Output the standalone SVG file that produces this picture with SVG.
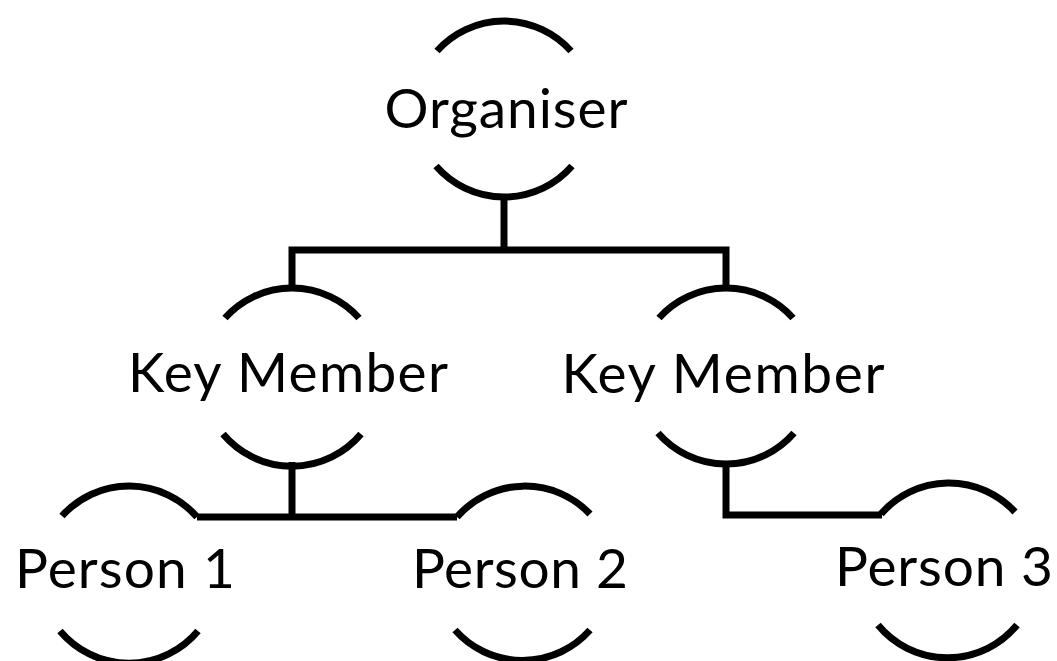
<svg xmlns="http://www.w3.org/2000/svg" width="1057" height="661" viewBox="0 0 1057 661">
<style>
.arc{fill:none;stroke:#000;stroke-width:7;stroke-linecap:butt}
.conn{fill:none;stroke:#000;stroke-width:7;stroke-linecap:butt;stroke-linejoin:miter}
.lbl{font-family:Lato,"Liberation Sans",sans-serif;font-size:55px;fill:#000;text-anchor:middle}
</style>
<rect width="1057" height="661" fill="#fff"/>
<g id="connectors">
<polyline class="conn" points="504,197 504,250"/>
<polyline class="conn" points="292,290 292,250 726,250 726,288"/>
<polyline class="conn" points="292,462 292,517"/>
<polyline class="conn" points="197,517 457,517"/>
<polyline class="conn" points="726,463 726,515 882,515"/>
</g>
<g id="organiser">
<path class="arc" d="M437,51 A90,90 0 0 1 571,51"/>
<text class="lbl" x="506" y="128" textLength="243">Organiser</text>
<path class="arc" d="M436,166 A90,90 0 0 0 572,166"/>
</g>
<g id="keymember1">
<path class="arc" d="M225,318 A90,90 0 0 1 359,318"/>
<text class="lbl" x="288" y="392" textLength="320">Key Member</text>
<path class="arc" d="M223,434 A90,90 0 0 0 361,434"/>
</g>
<g id="keymember2">
<path class="arc" d="M659,318 A90,90 0 0 1 793,318"/>
<text class="lbl" x="723" y="393" textLength="323">Key Member</text>
<path class="arc" d="M658,433 A90,90 0 0 0 794,433"/>
</g>
<g id="person1">
<path class="arc" d="M62,516 A90,90 0 0 1 197,517"/>
<text class="lbl" x="125" y="588" textLength="220">Person 1</text>
<path class="arc" d="M60,631 A90,90 0 0 0 198,631"/>
</g>
<g id="person2">
<path class="arc" d="M457,517 A90,90 0 0 1 590,514"/>
<text class="lbl" x="520" y="588" textLength="216">Person 2</text>
<path class="arc" d="M455,630 A90,90 0 0 0 590,630"/>
</g>
<g id="person3">
<path class="arc" d="M881,514 A90,90 0 0 1 1015,512"/>
<text class="lbl" x="944" y="586" textLength="218">Person 3</text>
<path class="arc" d="M878,625 A90,90 0 0 0 1017,625"/>
</g>
</svg>
